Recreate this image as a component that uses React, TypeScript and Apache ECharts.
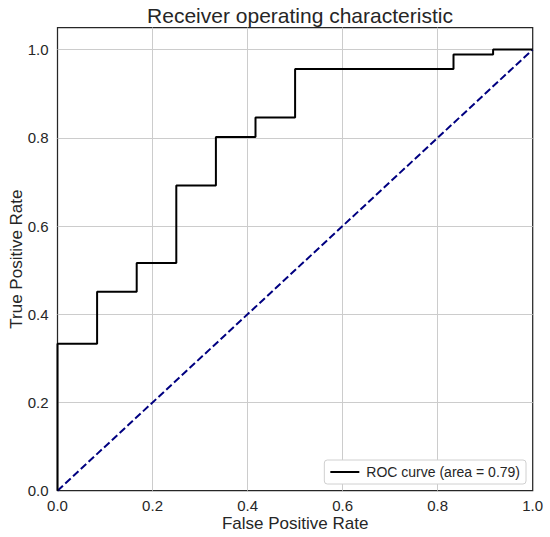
import { useRef, useEffect } from "react";
import * as echarts from "echarts";

// ROC curve corners (fpr steps are twelfths)
const fpr = [0, 0, 1 / 12, 1 / 12, 2 / 12, 2 / 12, 3 / 12, 3 / 12, 4 / 12, 4 / 12, 5 / 12, 5 / 12, 6 / 12, 6 / 12, 10 / 12, 10 / 12, 11 / 12, 11 / 12, 1];
const tpr = [0, 0.333, 0.333, 0.451, 0.451, 0.516, 0.516, 0.692, 0.692, 0.802, 0.802, 0.846, 0.846, 0.956, 0.956, 0.989, 0.989, 1.0, 1.0];
const chanceX = [0, 1];
const chanceY = [0, 1];
const rocLabel = "ROC curve (area = 0.79)";
const title = "Receiver operating characteristic";
const xName = "False Positive Rate";
const yName = "True Positive Rate";

const FONT = "'Liberation Sans', Arial, sans-serif";
const INK = "#262626";

export default function App() {
  const chartRef = useRef<HTMLDivElement>(null);

  useEffect(() => {
    document.body.style.margin = "0";
    if (!chartRef.current) return;
    const chart = echarts.init(chartRef.current, null, { renderer: "svg" });

    const axisCommon = {
      type: "value" as const,
      min: 0,
      interval: 0.2,
      nameLocation: "middle" as const,
      nameMoveOverlap: false,
      nameTextStyle: { fontFamily: FONT, fontSize: 17, color: INK },
      axisLine: { show: false },
      axisTick: { show: false },
      axisLabel: {
        fontFamily: FONT,
        fontSize: 15,
        color: INK,
        formatter: (v: number) => v.toFixed(1),
      },
      splitLine: {
        show: true,
        showMinLine: false,
        showMaxLine: false,
        lineStyle: { color: "#cccccc", width: 1 },
      },
    };

    chart.setOption({
      animation: false,
      textStyle: { fontFamily: FONT },
      title: {
        text: title,
        left: 295,
        top: 0,
        textAlign: "center",
        textStyle: { fontFamily: FONT, fontSize: 21, fontWeight: "normal", color: INK },
      },
      grid: {
        left: 57.5,
        right: 17.3,
        top: 27.5,
        bottom: 46.3,
        outerBoundsMode: "none",
        containLabel: false,
        show: true,
        borderColor: INK,
        borderWidth: 1.25,
        backgroundColor: "#ffffff",
      },
      legend: {
        data: [rocLabel],
        right: 24,
        bottom: 53,
        icon: "rect",
        itemWidth: 29,
        itemHeight: 2,
        itemGap: 10,
        padding: [5, 6, 5, 6],
        backgroundColor: "#ffffff",
        borderColor: "#d0d0d0",
        borderWidth: 1,
        borderRadius: 3,
        textStyle: { fontFamily: FONT, fontSize: 14, color: INK, padding: [0, 0, 0, 2] },
      },
      xAxis: {
        ...axisCommon,
        max: 1,
        name: xName,
        nameGap: 24,
        axisLabel: { ...axisCommon.axisLabel, margin: 7 },
      },
      yAxis: {
        ...axisCommon,
        max: 1.05,
        name: yName,
        nameGap: 33,
        axisLabel: { ...axisCommon.axisLabel, margin: 9, showMaxLabel: false },
      },
      series: [
        {
          name: rocLabel,
          type: "line",
          data: fpr.map((x, i) => [x, tpr[i]]),
          showSymbol: false,
          symbol: "none",
          lineStyle: { color: "#000000", width: 2 },
          itemStyle: { color: "#000000" },
          z: 3,
        },
        {
          name: "chance",
          type: "line",
          data: chanceX.map((x, i) => [x, chanceY[i]]),
          showSymbol: false,
          symbol: "none",
          lineStyle: { color: "#000080", width: 2, type: [7.4, 3.2] },
          z: 2,
        },
      ],
    });

    return () => {
      chart.dispose();
    };
  }, []);

  return <div ref={chartRef} style={{ width: "550px", height: "537px" }} />;
}
